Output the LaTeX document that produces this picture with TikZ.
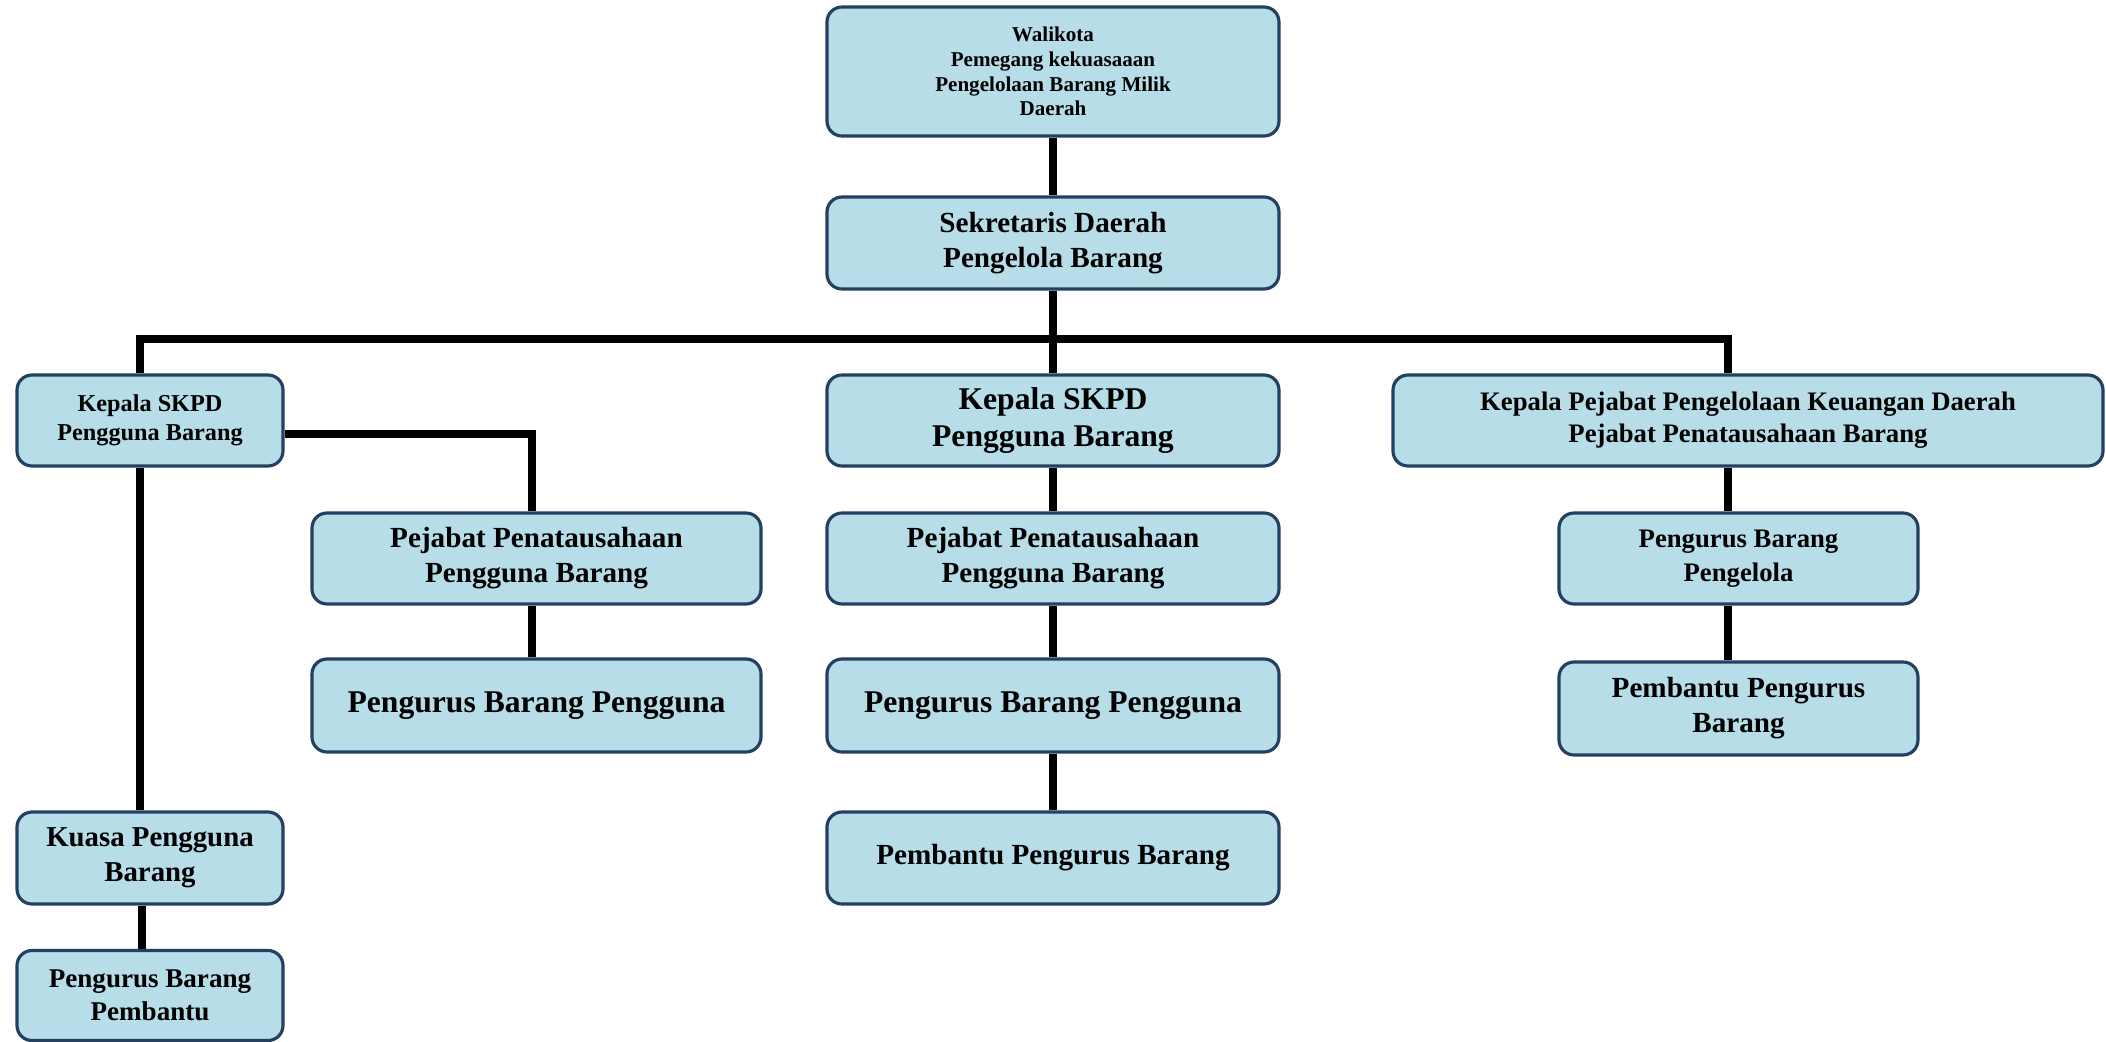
\documentclass[tikz,border=0pt]{standalone}
\usepackage{fontspec}
\setmainfont{Liberation Serif}
\usepackage{tikz,xcolor}
\usetikzlibrary{backgrounds}

\definecolor{unitfill}{HTML}{B7DDE8}
\definecolor{unitline}{HTML}{243F60}
\newcommand{\txtsize}[2]{\fontsize{#1pt}{#2pt}\selectfont}

\tikzset{
    unit/.style={draw=unitline, fill=unitfill, line width=0.9pt, rounded corners=0.15cm,
        align=center, inner sep=0pt, font=\bfseries},
    link/.style={line width=2.3pt, black}
}

\begin{document}
\begin{tikzpicture}

        \useasboundingbox (0,0) rectangle (21.06,-10.42);

        % Top
        \node[unit, minimum width=4.52cm, minimum height=1.29cm, font=\bfseries\txtsize{6}{7}]
            (wali) at (10.53,-0.715) {Walikota\\Pemegang kekuasaaan\\Pengelolaan Barang Milik\\Daerah};
        \node[unit, minimum width=4.52cm, minimum height=0.92cm, font=\bfseries\txtsize{8.3}{10}]
            (sekda) at (10.53,-2.43) {Sekretaris Daerah\\Pengelola Barang};

        % Second row
        \node[unit, minimum width=2.66cm, minimum height=0.91cm, font=\bfseries\txtsize{6.9}{8.2}]
            (kskpdL) at (1.50,-4.205) {Kepala SKPD\\Pengguna Barang};
        \node[unit, minimum width=4.52cm, minimum height=0.91cm, font=\bfseries\txtsize{9}{10.8}]
            (kskpdM) at (10.53,-4.205) {Kepala SKPD\\Pengguna Barang};
        \node[unit, minimum width=7.10cm, minimum height=0.91cm, font=\bfseries\txtsize{7.6}{9.2}]
            (kpkd) at (17.48,-4.205) {Kepala Pejabat Pengelolaan Keuangan Daerah\\Pejabat Penatausahaan Barang};

        % Left branch
        \node[unit, minimum width=4.49cm, minimum height=0.91cm, font=\bfseries\txtsize{8.3}{10}]
            (ppbL) at (5.365,-5.585) {Pejabat Penatausahaan\\Pengguna Barang};
        \node[unit, minimum width=4.49cm, minimum height=0.93cm, font=\bfseries\txtsize{9}{10.8}]
            (pbpL) at (5.365,-7.055) {Pengurus Barang Pengguna};
        \node[unit, minimum width=2.66cm, minimum height=0.92cm, font=\bfseries\txtsize{8.2}{9.9}]
            (kuasa) at (1.50,-8.58) {Kuasa Pengguna\\Barang};
        \node[unit, minimum width=2.66cm, minimum height=0.90cm, font=\bfseries\txtsize{7.7}{9.3}]
            (pbpemb) at (1.50,-9.955) {Pengurus Barang\\Pembantu};

        % Middle branch
        \node[unit, minimum width=4.52cm, minimum height=0.91cm, font=\bfseries\txtsize{8.3}{10}]
            (ppbM) at (10.53,-5.585) {Pejabat Penatausahaan\\Pengguna Barang};
        \node[unit, minimum width=4.52cm, minimum height=0.93cm, font=\bfseries\txtsize{9}{10.8}]
            (pbpM) at (10.53,-7.055) {Pengurus Barang Pengguna};
        \node[unit, minimum width=4.52cm, minimum height=0.92cm, font=\bfseries\txtsize{8.3}{10}]
            (pembM) at (10.53,-8.58) {Pembantu Pengurus Barang};

        % Right branch
        \node[unit, minimum width=3.59cm, minimum height=0.91cm, font=\bfseries\txtsize{7.6}{9.6}]
            (pbpl) at (17.385,-5.585) {Pengurus Barang\\Pengelola};
        \node[unit, minimum width=3.59cm, minimum height=0.93cm, font=\bfseries\txtsize{8.3}{10}]
            (pembR) at (17.385,-7.085) {Pembantu Pengurus\\Barang};

        % Connectors
        \coordinate (busL) at (1.40,-3.39);
        \coordinate (busR) at (17.28,-3.39);
        \coordinate (tapL) at (5.32,-4.34);
        \begin{scope}[on background layer]
            \draw[link] (wali.south) -- (sekda.north);
            \draw[link] (sekda.south) -- (kskpdM.north);
            \draw[link] (busL |- kskpdL.north) -- (busL) -- (busR) -- (busR |- kpkd.north);
            \draw[link] (busL |- kskpdL.south) -- (busL |- kuasa.north);
            \draw[link] (kuasa.south -| 1.42,0) -- (pbpemb.north -| 1.42,0);
            \draw[link] (kskpdL.east |- tapL) -- (tapL) -- (tapL |- ppbL.north);
            \draw[link] (tapL |- ppbL.south) -- (tapL |- pbpL.north);
            \draw[link] (kskpdM.south) -- (ppbM.north);
            \draw[link] (ppbM.south) -- (pbpM.north);
            \draw[link] (pbpM.south) -- (pembM.north);
            \draw[link] (busR |- kpkd.south) -- (busR |- pbpl.north);
            \draw[link] (busR |- pbpl.south) -- (busR |- pembR.north);
        \end{scope}

    \end{tikzpicture}
\end{document}
